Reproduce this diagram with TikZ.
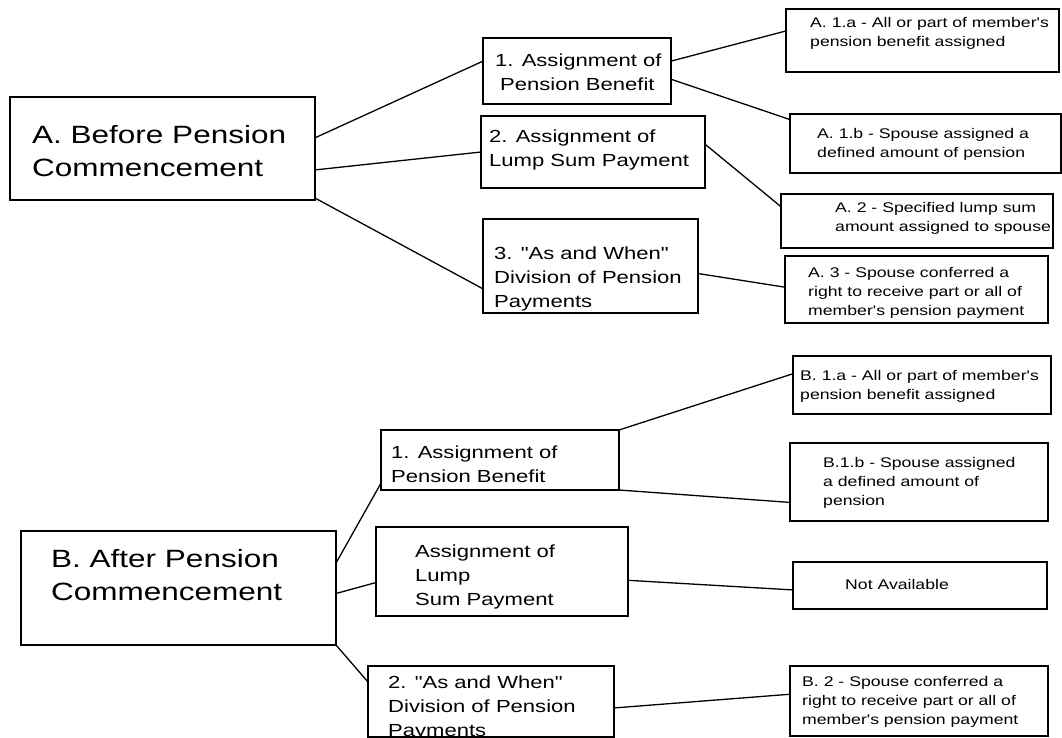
\documentclass[tikz,border=0pt]{standalone}
\usepackage{fontspec}
\newfontfamily\chartfont{Liberation Sans}[FakeStretch=1.26]
\usetikzlibrary{positioning}

\tikzset{
    box/.style 2 args={draw,line width=1.5pt,inner sep=0pt,outer sep=0pt,
        minimum width=#1pt,minimum height=#2pt,anchor=north west},
    bigtxt/.style={inner sep=0pt,align=left,font=\chartfont\fontsize{25}{33.5}\selectfont},
    midtxt/.style={inner sep=0pt,align=left,font=\chartfont\fontsize{17.5}{24}\selectfont},
    smalltxt/.style={inner sep=0pt,align=left,font=\chartfont\fontsize{14}{19}\selectfont},
    link/.style={line width=1.3pt}
}

\begin{document}
\begin{tikzpicture}[x=1pt,y=-1pt]
        \path[use as bounding box,fill=white] (0,0) rectangle (1062,738);
        \clip (0,0) rectangle (1062,738);

        % before commencement
        \node[box={305}{103}] (A) at (10,97) {};
        \node[box={188}{66}] (A1) at (483,38) {};
        \node[box={224}{72}] (A2) at (481,116) {};
        \node[box={215}{94}] (A3) at (483,219) {};
        \node[box={273}{63}] (A1a) at (786,9) {};
        \node[box={271}{59}] (A1b) at (790,114) {};
        \node[box={272}{54}] (A2b) at (781,194) {};
        \node[box={263}{67}] (A3b) at (785,256) {};

        \node[bigtxt,below right=28pt and 22pt of A.north west] (At) {A. Before Pension\\Commencement};
        \node[midtxt,below right=15.4pt and 12pt of A1.north west] (A1t) {1. Assignment of\\\hspace*{5pt}Pension Benefit};
        \node[midtxt,below right=13.4pt and 8pt of A2.north west] (A2t) {2. Assignment of\\Lump Sum Payment};
        \node[midtxt,below right=27.4pt and 11pt of A3.north west] (A3t) {3. "As and When"\\Division of Pension\\Payments};
        \node[smalltxt,below right=7.9pt and 24pt of A1a.north west] (A1at) {A. 1.a - All or part of member's\\pension benefit assigned};
        \node[smalltxt,below right=13.9pt and 27pt of A1b.north west] (A1bt) {A. 1.b - Spouse assigned a\\defined amount of pension};
        \node[smalltxt,below right=7.9pt and 54pt of A2b.north west] (A2bt) {A. 2 - Specified lump sum\\amount assigned to spouse};
        \node[smalltxt,below right=10.9pt and 23pt of A3b.north west] (A3bt) {A. 3 - Spouse conferred a\\right to receive part or all of\\member's pension payment};

        % after commencement
        \node[box={315}{114}] (B) at (21,531) {};
        \node[box={238}{60}] (B1) at (381,430) {};
        \node[box={252}{89}] (B2) at (376,527) {};
        \node[box={246}{71}] (B3) at (368,666) {};
        \node[box={258}{58}] (B1a) at (793,356) {};
        \node[box={258}{78}] (B1b) at (790,443) {};
        \node[box={254}{47}] (B2b) at (793,562) {};
        \node[box={258}{70}] (B3b) at (790,666) {};

        \node[bigtxt,below right=18pt and 30pt of B.north west] (Bt) {B. After Pension\\Commencement};
        \node[midtxt,below right=15.4pt and 10pt of B1.north west] (B1t) {1. Assignment of\\Pension Benefit};
        \node[midtxt,below right=17.4pt and 39pt of B2.north west] (B2t) {Assignment of\\Lump\\Sum Payment};
        \node[midtxt,below right=9.4pt and 20pt of B3.north west] (B3t) {2. "As and When"\\Division of Pension\\Payments};
        \node[smalltxt,below right=13.9pt and 7pt of B1a.north west] (B1at) {B. 1.a - All or part of member's\\pension benefit assigned};
        \node[smalltxt,below right=13.9pt and 33pt of B1b.north west] (B1bt) {B.1.b - Spouse assigned\\a defined amount of\\pension};
        \node[smalltxt,below right=16.9pt and 52pt of B2b.north west] (B2bt) {Not Available};
        \node[smalltxt,below right=9.9pt and 12pt of B3b.north west] (B3bt) {B. 2 - Spouse conferred a\\right to receive part or all of\\member's pension payment};

        \foreach \from/\to in {A.4/A1.174, A.-8/A2.west, A.-18/A3.192,
                A1.6/A1a.176, A1.-5/A1b.170, A2.4/A2b.174, A3.-4/A3b.179,
                B.9/B1.191, B.-2/B2.185, B.south east/B3.171,
                B1.north east/B1a.175, B1.south east/B1b.189,
                B2.-4/B2b.182, B3.-3/B3b.177}{
            \draw[link] (\from) -- (\to);
        }
    \end{tikzpicture}
\end{document}
